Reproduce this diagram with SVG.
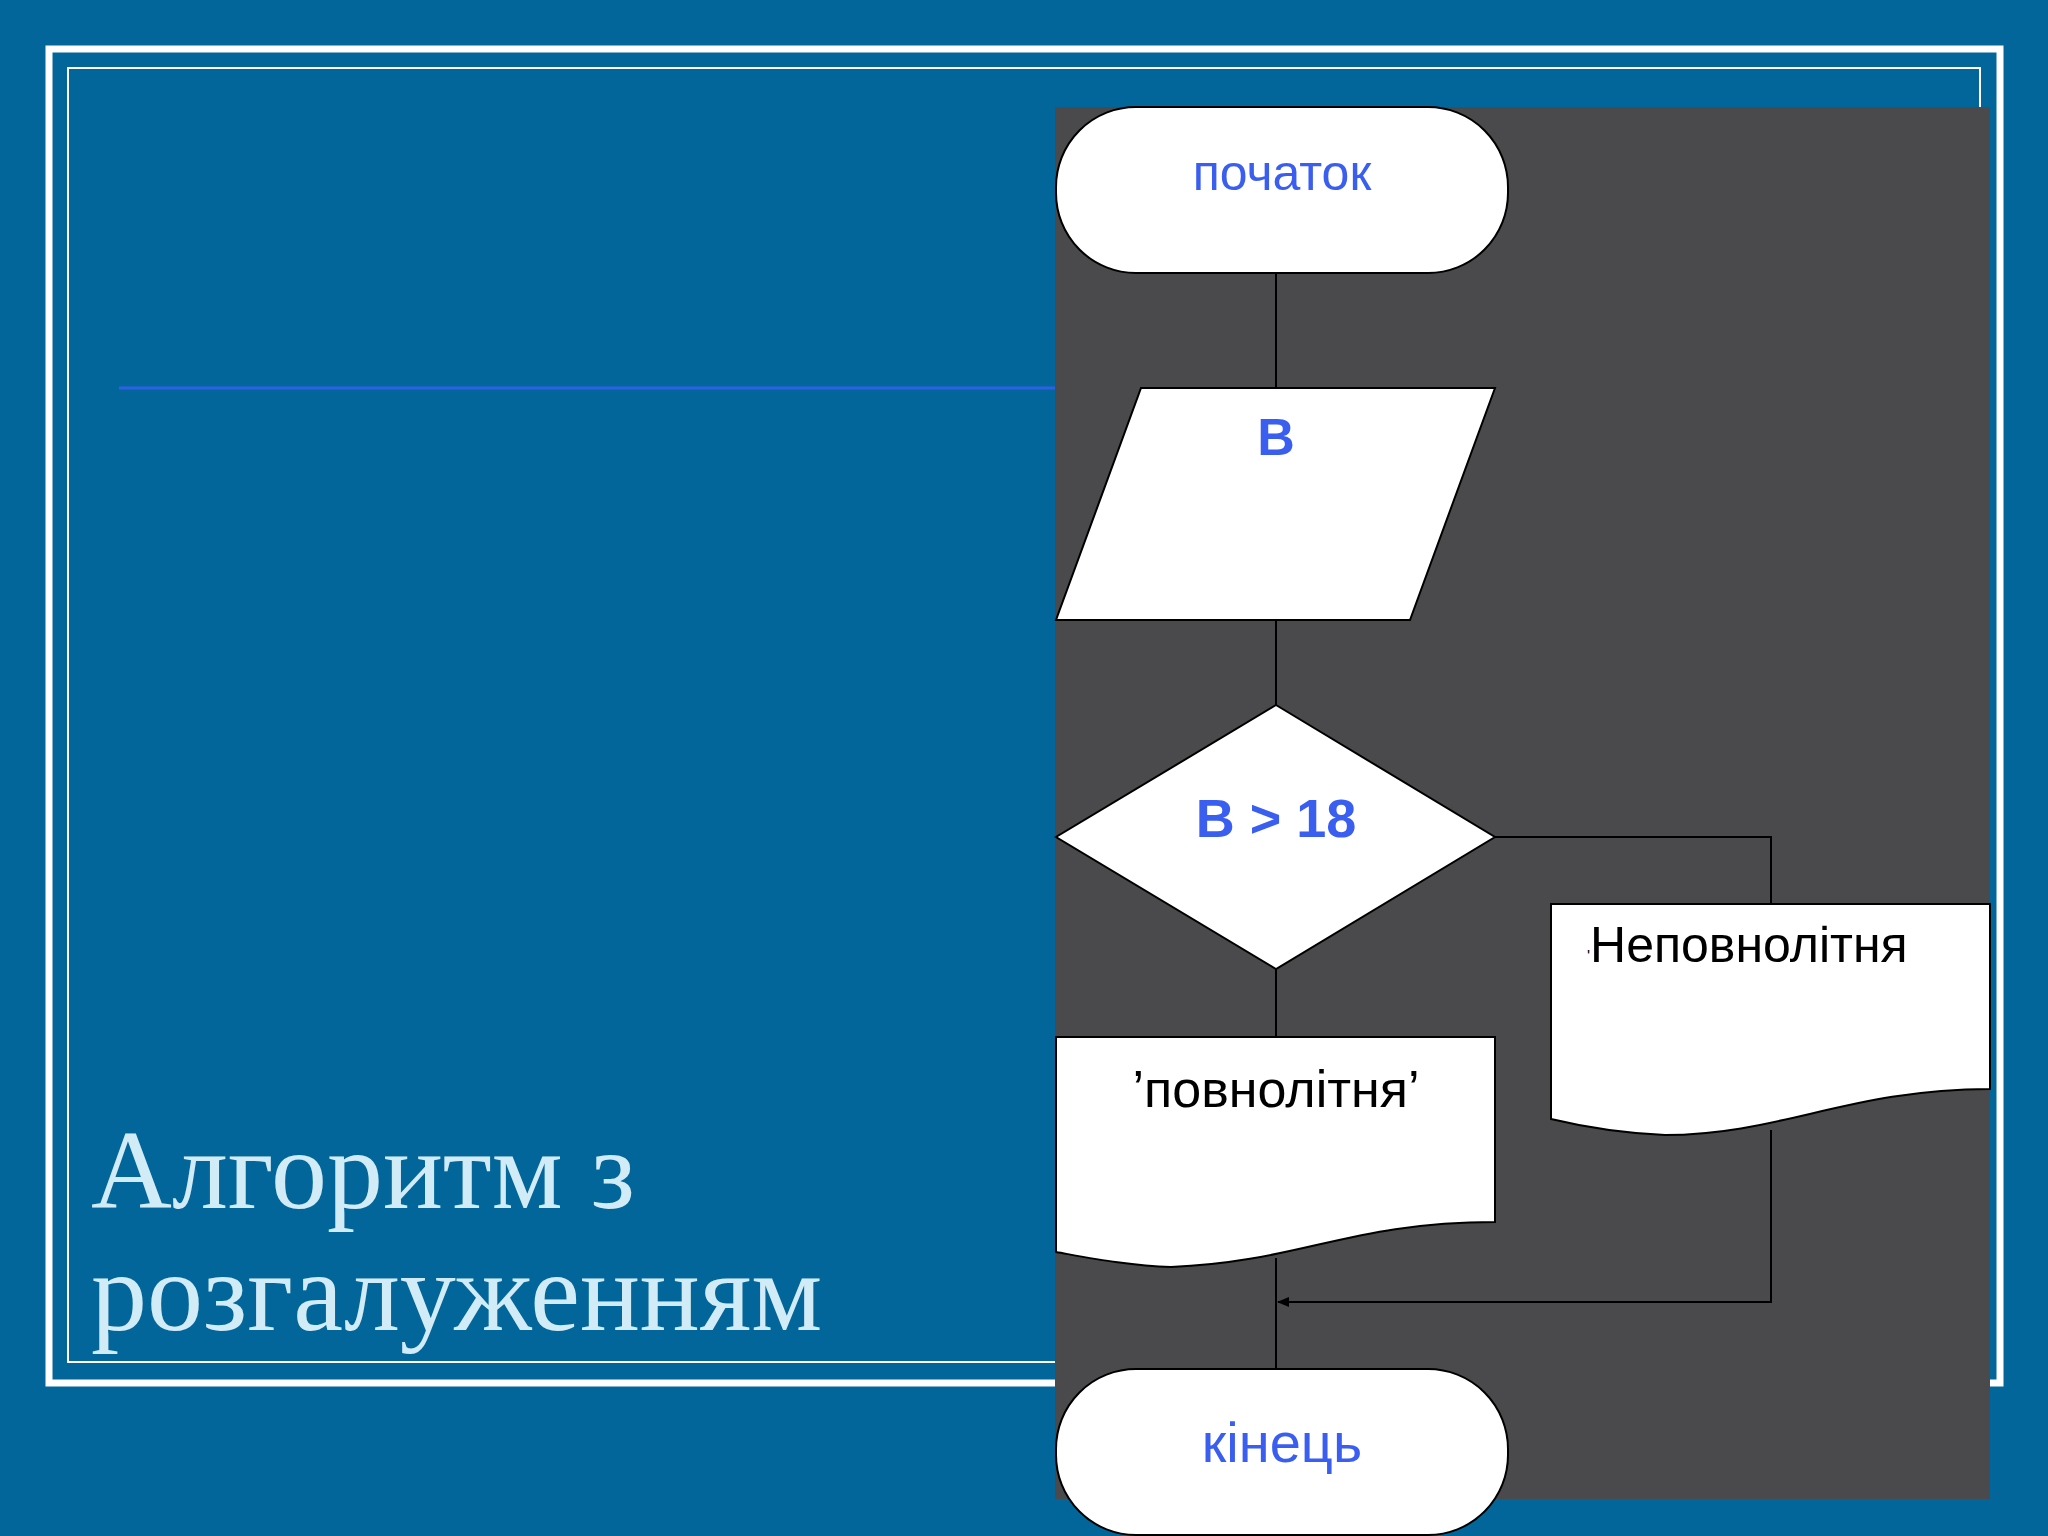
<svg xmlns="http://www.w3.org/2000/svg" width="2048" height="1536" viewBox="0 0 2048 1536">
<defs>
<style>
.s{fill:#fff;stroke:#000;stroke-width:2}
.c{fill:none;stroke:#000;stroke-width:2}
.bl{font-family:"Liberation Sans",Arial,sans-serif;fill:#3a5ef0;text-anchor:middle}
.bk{font-family:"Liberation Sans",Arial,sans-serif;fill:#000}
.t{font-family:"Liberation Serif","Times New Roman",serif;fill:#d2ecf7;font-size:112px}
</style>
<marker id="a" markerWidth="12" markerHeight="10" refX="11" refY="5" orient="auto" markerUnits="userSpaceOnUse"><path d="M0,0L12,5L0,10z" fill="#000"/></marker>
</defs>
<rect width="2048" height="1536" fill="#02669a"/>
<rect x="49" y="49" width="1951" height="1334" fill="none" stroke="#fff" stroke-width="7"/>
<rect x="68" y="68" width="1912" height="1294" fill="none" stroke="#fff" stroke-width="2"/>
<line x1="119" y1="388" x2="1055" y2="388" stroke="#2f5fe6" stroke-width="3"/>
<text class="t" x="91" y="1208">Алгоритм з</text>
<text class="t" x="91" y="1330">розгалуженням</text>
<rect x="1055" y="107" width="935" height="1392" fill="#4a494b"/>
<g id="connectors">
<line class="c" x1="1276" y1="273" x2="1276" y2="388"/>
<line class="c" x1="1276" y1="620" x2="1276" y2="705"/>
<polyline class="c" points="1495,837 1771,837 1771,904"/>
<line class="c" x1="1276" y1="969" x2="1276" y2="1037"/>
<polyline class="c" points="1771,1130 1771,1302 1278,1302" marker-end="url(#a)"/>
<line class="c" x1="1276" y1="1258" x2="1276" y2="1369"/>
</g>
<g id="start"><rect class="s" x="1056" y="107" width="452" height="166" rx="80"/><text class="bl" x="1282" y="190" font-size="50">початок</text></g>
<g id="input"><polygon class="s" points="1141,388 1495,388 1410,620 1056,620"/><text class="bl" x="1276" y="455" font-size="52" font-weight="bold">B</text></g>
<g id="decision"><polygon class="s" points="1276,705 1495,837 1276,969 1056,837"/><text class="bl" x="1276" y="837" font-size="54" font-weight="bold">B &gt; 18</text></g>
<g id="docRight"><path class="s" d="M1551,904H1990V1089C1850,1089 1780,1135 1665,1135C1620,1133 1580,1126 1551,1119Z"/><text class="bk" x="1587" y="962" font-size="50"><tspan font-size="16">'</tspan>Неповнолітня</text></g>
<g id="docLeft"><path class="s" d="M1056,1037H1495V1222C1350,1222 1300,1262 1171,1267C1130,1266 1090,1258 1056,1252Z"/><text class="bk" x="1276" y="1107" font-size="52" text-anchor="middle">’повнолітня’</text></g>
<g id="end"><rect class="s" x="1056" y="1369" width="452" height="166" rx="80"/><text class="bl" x="1282" y="1462" font-size="56">кінець</text></g>
</svg>
